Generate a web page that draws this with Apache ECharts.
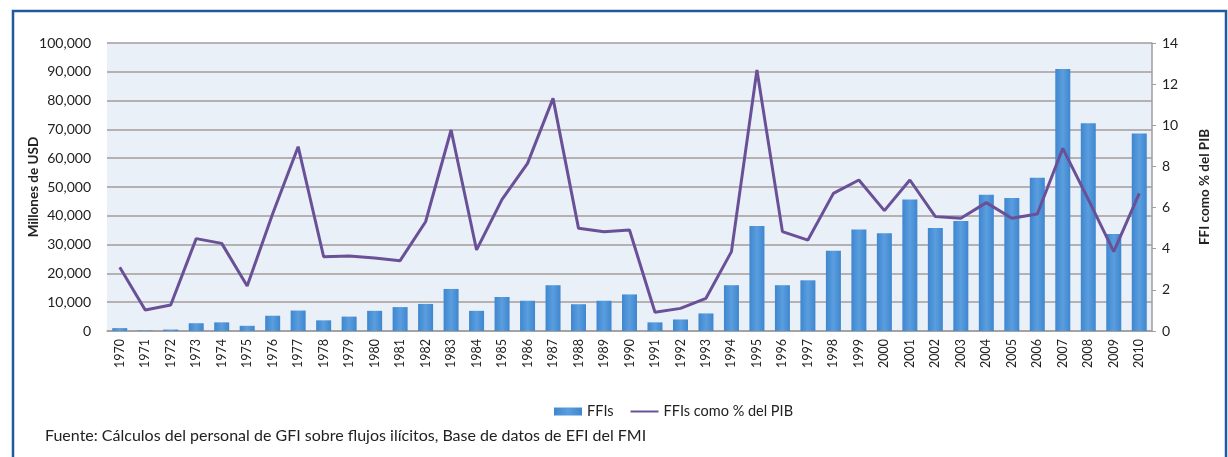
<!DOCTYPE html>
<html>
<head>
<meta charset="utf-8">
<script src="https://cdn.jsdelivr.net/npm/echarts@6/dist/echarts.min.js"></script>
<style>
  html, body { margin: 0; padding: 0; background: #fff; }
  #chart { width: 1228px; height: 457px; }
</style>
</head>
<body>
<div id="chart"></div>
<script>
// data
const years = ['1970', '1971', '1972', '1973', '1974', '1975', '1976', '1977', '1978', '1979',
  '1980', '1981', '1982', '1983', '1984', '1985', '1986', '1987', '1988', '1989',
  '1990', '1991', '1992', '1993', '1994', '1995', '1996', '1997', '1998', '1999',
  '2000', '2001', '2002', '2003', '2004', '2005', '2006', '2007', '2008', '2009', '2010']

const ffis = [1000, 200, 500, 2700, 3000, 1800, 5300, 7100, 3700, 5000,
  7000, 8300, 9400, 14600, 7000, 11800, 10500, 15900, 9300, 10500,
  12700, 3000, 4000, 6100, 15900, 36500, 15900, 17600, 27900, 35200,
  33900, 45700, 35800, 38200, 47300, 46200, 53200, 91000, 72100, 33700, 68600]

const ffiPctPib = [3.1, 1.02, 1.26, 4.49, 4.26, 2.19, 5.7, 8.96, 3.61, 3.65,
  3.55, 3.42, 5.31, 9.77, 3.94, 6.4, 8.15, 11.31, 4.99, 4.83,
  4.91, 0.91, 1.1, 1.59, 3.86, 12.69, 4.83, 4.42, 6.69, 7.34,
  5.85, 7.34, 5.56, 5.48, 6.24, 5.48, 5.69, 8.88, 6.4, 3.86, 6.69]

const seriesNames = ['FFIs', 'FFIs como % del PIB']
const fuente = 'Fuente: Cálculos del personal de GFI sobre flujos ilícitos, Base de datos de EFI del FMI'

const font = 'Lato, "Open Sans", sans-serif'
const myChart = echarts.init(document.getElementById('chart'), null, { renderer: 'canvas' })

myChart.setOption({
  backgroundColor: '#fff',
  animation: false,
  textStyle: { fontFamily: font, color: '#222' },
  grid: {
    left: 107,
    right: 76,
    top: 43,
    bottom: 126,
    show: true,
    backgroundColor: '#e9f0f8',
    borderWidth: 0
  },
  legend: {
    left: 549,
    top: 399,
    itemWidth: 28,
    itemHeight: 8,
    itemGap: 16,
    textStyle: { fontSize: 14.5, color: '#222', fontFamily: font },
    data: [
      { name: seriesNames[0], icon: 'rect' },
      { name: seriesNames[1], itemStyle: { opacity: 0 } }
    ]
  },
  xAxis: {
    type: 'category',
    data: years,
    axisLine: { show: true, lineStyle: { color: '#a39c9c', width: 1.5 } },
    axisTick: { show: false },
    axisLabel: {
      rotate: 90,
      fontSize: 12.5,
      color: '#222',
      margin: 8,
      interval: 0
    }
  },
  yAxis: [
    {
      type: 'value',
      min: 0,
      max: 100000,
      interval: 10000,
      name: 'Millones de USD',
      nameLocation: 'middle',
      nameRotate: 90,
      nameGap: 66,
      nameMoveOverlap: false,
      nameTextStyle: { fontSize: 13.5, fontWeight: 'bold', color: '#222' },
      axisLine: { show: false },
      axisTick: { show: false },
      axisLabel: {
        fontSize: 14,
        color: '#222',
        margin: 16,
        formatter: v => v.toLocaleString('en-US')
      },
      splitLine: { lineStyle: { color: '#a39c9c', width: 1.5 } }
    },
    {
      type: 'value',
      min: 0,
      max: 14,
      interval: 2,
      position: 'right',
      name: 'FFI como % del PIB',
      nameLocation: 'middle',
      nameRotate: 90,
      nameGap: 46,
      nameMoveOverlap: false,
      nameTextStyle: { fontSize: 13.5, fontWeight: 'bold', color: '#222' },
      axisLine: { show: true, lineStyle: { color: '#a39c9c', width: 1.5 } },
      axisTick: { show: true, length: 4, lineStyle: { color: '#a39c9c' } },
      axisLabel: { fontSize: 14, color: '#222', margin: 10 },
      splitLine: { show: false }
    }
  ],
  series: [
    {
      name: seriesNames[0],
      type: 'bar',
      yAxisIndex: 0,
      barWidth: 15,
      itemStyle: {
        color: new echarts.graphic.LinearGradient(0, 0, 1, 0, [
          { offset: 0, color: '#3f86cf' },
          { offset: 0.5, color: '#5a9ede' },
          { offset: 1, color: '#3f86cf' }
        ])
      },
      data: ffis
    },
    {
      name: seriesNames[1],
      type: 'line',
      yAxisIndex: 1,
      symbol: 'none',
      lineStyle: { color: '#6a5197', width: 3 },
      itemStyle: { color: '#6a5197' },
      data: ffiPctPib
    }
  ],
  graphic: [
    {
      type: 'rect',
      shape: { x: 13, y: 11, width: 1213, height: 470 },
      style: { fill: 'none', stroke: '#1f5a9e', lineWidth: 2.5 },
      silent: true
    },
    {
      type: 'text',
      left: 45,
      top: 428,
      style: { text: fuente, fontSize: 16, fill: '#222', fontFamily: font }
    }
  ]
})
</script>
</body>
</html>
